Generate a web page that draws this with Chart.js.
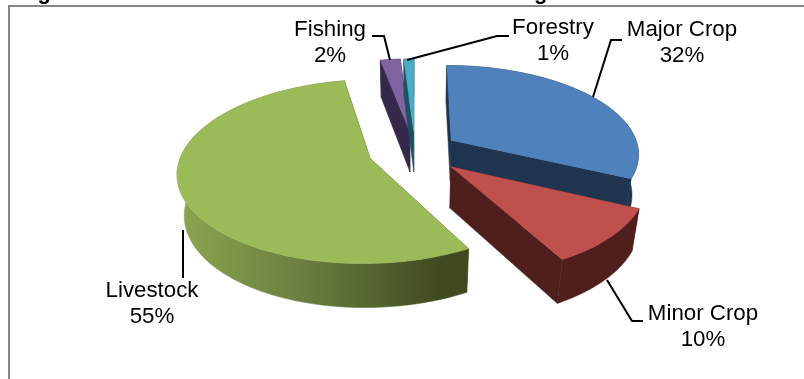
<!DOCTYPE html>
<html lang="en">
<head>
<meta charset="UTF-8">
<title>Sub Sector Contribution</title>
<script src="https://cdn.jsdelivr.net/npm/chart.js"></script>
<style>
  html, body { margin: 0; padding: 0; background: #fff; overflow: hidden; }
  canvas { display: block; }
</style>
</head>
<body>
<canvas id="pieChart" width="804" height="379"></canvas>
<script>
const categories = ['Major Crop', 'Minor Crop', 'Livestock', 'Fishing', 'Forestry'];
const shares = [32, 10, 55, 2, 1];
const titleText = 'Figure 1: Sub Sector Contribution to Agricultural Production';

const topColors = ['#4f81bd', '#c0504d', '#9bbb59', '#8064a2', '#4bacc6'];
const sideColors = ['#1f344f', '#4f1f1e', '#3f4a20', '#35284a', '#1d5160'];
const explode = [39, 43, 42, 38, 38];

// label centre, then the leader line from the label to its slice
const labelSpots = [
  { x: 682, y: 30, line: [[622, 40], [611, 40], [593, 97]] },
  { x: 703, y: 314, line: [[643, 321], [632, 321], [607, 280]] },
  { x: 152, y: 291, line: [[183, 278], [183, 230]] },
  { x: 330, y: 30, line: [[372, 36], [384, 36], [390, 60]] },
  { x: 553, y: 28, line: [[509, 36], [497, 36], [407, 60]] }
];

// tilted view of the pie plane: u/v in pie radii, z is 0 on top and 1 at the bottom
const view = { cx: 415, cy: 151, ax: 188, ay: 88, persp: 0.14, shrink: 0.03, depth: 42 };
// back to front
const drawOrder = [3, 4, 0, 2, 1];

function project(u, v, z) {
  const w = 1 - view.persp * v + view.shrink * z;
  return [view.cx + view.ax * u / w, view.cy + (view.ay * v + view.depth * z) / w];
}

function sliceGeometry(arc) {
  const R = arc.outerRadius;
  const e = arc.options.offset / R;
  const mid = (arc.startAngle + arc.endAngle) / 2;
  const ou = e * Math.cos(mid), ov = e * Math.sin(mid);
  const rim = [];
  const steps = Math.max(2, Math.ceil((arc.endAngle - arc.startAngle) * 60));
  for (let i = 0; i <= steps; i++) {
    const t = arc.startAngle + (arc.endAngle - arc.startAngle) * i / steps;
    rim.push([ou + Math.cos(t), ov + Math.sin(t)]);
  }
  return { apex: [ou, ov], rim };
}

function fillPoly(ctx, pts, fill) {
  ctx.beginPath();
  pts.forEach((p, i) => i ? ctx.lineTo(p[0], p[1]) : ctx.moveTo(p[0], p[1]));
  ctx.closePath();
  ctx.fillStyle = fill;
  ctx.fill();
  ctx.strokeStyle = fill;
  ctx.lineWidth = 0.5;
  ctx.stroke();
}

function wall(a, b) {
  return [project(a[0], a[1], 0), project(b[0], b[1], 0), project(b[0], b[1], 1), project(a[0], a[1], 1)];
}

function drawSlice(ctx, arc, i) {
  const g = sliceGeometry(arc);
  const first = g.rim[0], last = g.rim[g.rim.length - 1];

  fillPoly(ctx, wall(g.apex, first), sideColors[i]);
  fillPoly(ctx, wall(g.apex, last), sideColors[i]);

  // outer wall, shaded from left to right on the big slice
  let side = sideColors[i];
  if (categories[i] === 'Livestock') {
    side = ctx.createLinearGradient(180, 0, 440, 0);
    side.addColorStop(0, '#8ba550');
    side.addColorStop(0.45, '#6c8040');
    side.addColorStop(1, '#3f4a20');
  }
  const upper = g.rim.map(p => project(p[0], p[1], 0));
  const lower = g.rim.map(p => project(p[0], p[1], 1)).reverse();
  fillPoly(ctx, upper.concat(lower), side);

  const face = [project(g.apex[0], g.apex[1], 0)].concat(upper);
  fillPoly(ctx, face, topColors[i]);
}

const pie3d = {
  id: 'pie3d',
  beforeDatasetDraw(chart, args) {
    const ctx = chart.ctx;
    const arcs = chart.getDatasetMeta(args.index).data;
    ctx.save();
    drawOrder.forEach(i => drawSlice(ctx, arcs[i], i));
    ctx.restore();
    return false;
  },
  afterDraw(chart) {
    const ctx = chart.ctx;
    ctx.save();

    // plot frame, open on the right and at the bottom
    ctx.strokeStyle = '#868686';
    ctx.lineWidth = 2;
    ctx.beginPath();
    ctx.moveTo(9, 379);
    ctx.lineTo(9, 6);
    ctx.lineTo(804, 6);
    ctx.stroke();

    // heading runs off the top edge
    ctx.fillStyle = '#000';
    ctx.font = 'bold 22px "Liberation Sans"';
    ctx.textAlign = 'left';
    ctx.textBaseline = 'alphabetic';
    ctx.wordSpacing = '19px';
    ctx.fillText(titleText, 18, -0.6);
    ctx.wordSpacing = '0px';

    ctx.strokeStyle = '#000';
    ctx.lineWidth = 2;
    ctx.font = '22.3px "Liberation Sans"';
    ctx.textAlign = 'center';
    ctx.textBaseline = 'middle';
    categories.forEach((name, i) => {
      const spot = labelSpots[i];
      ctx.beginPath();
      spot.line.forEach((p, k) => k ? ctx.lineTo(p[0], p[1]) : ctx.moveTo(p[0], p[1]));
      ctx.stroke();
      ctx.fillText(name, spot.x, spot.y);
      ctx.fillText(shares[i] + '%', spot.x, spot.y + 26);
    });
    ctx.restore();
  }
};

new Chart(document.getElementById('pieChart'), {
  type: 'pie',
  data: {
    labels: categories,
    datasets: [{ data: shares, backgroundColor: topColors, offset: explode, borderWidth: 0 }]
  },
  options: {
    responsive: false,
    animation: false,
    plugins: { legend: { display: false }, tooltip: { enabled: false } }
  },
  plugins: [pie3d]
});
</script>
</body>
</html>
